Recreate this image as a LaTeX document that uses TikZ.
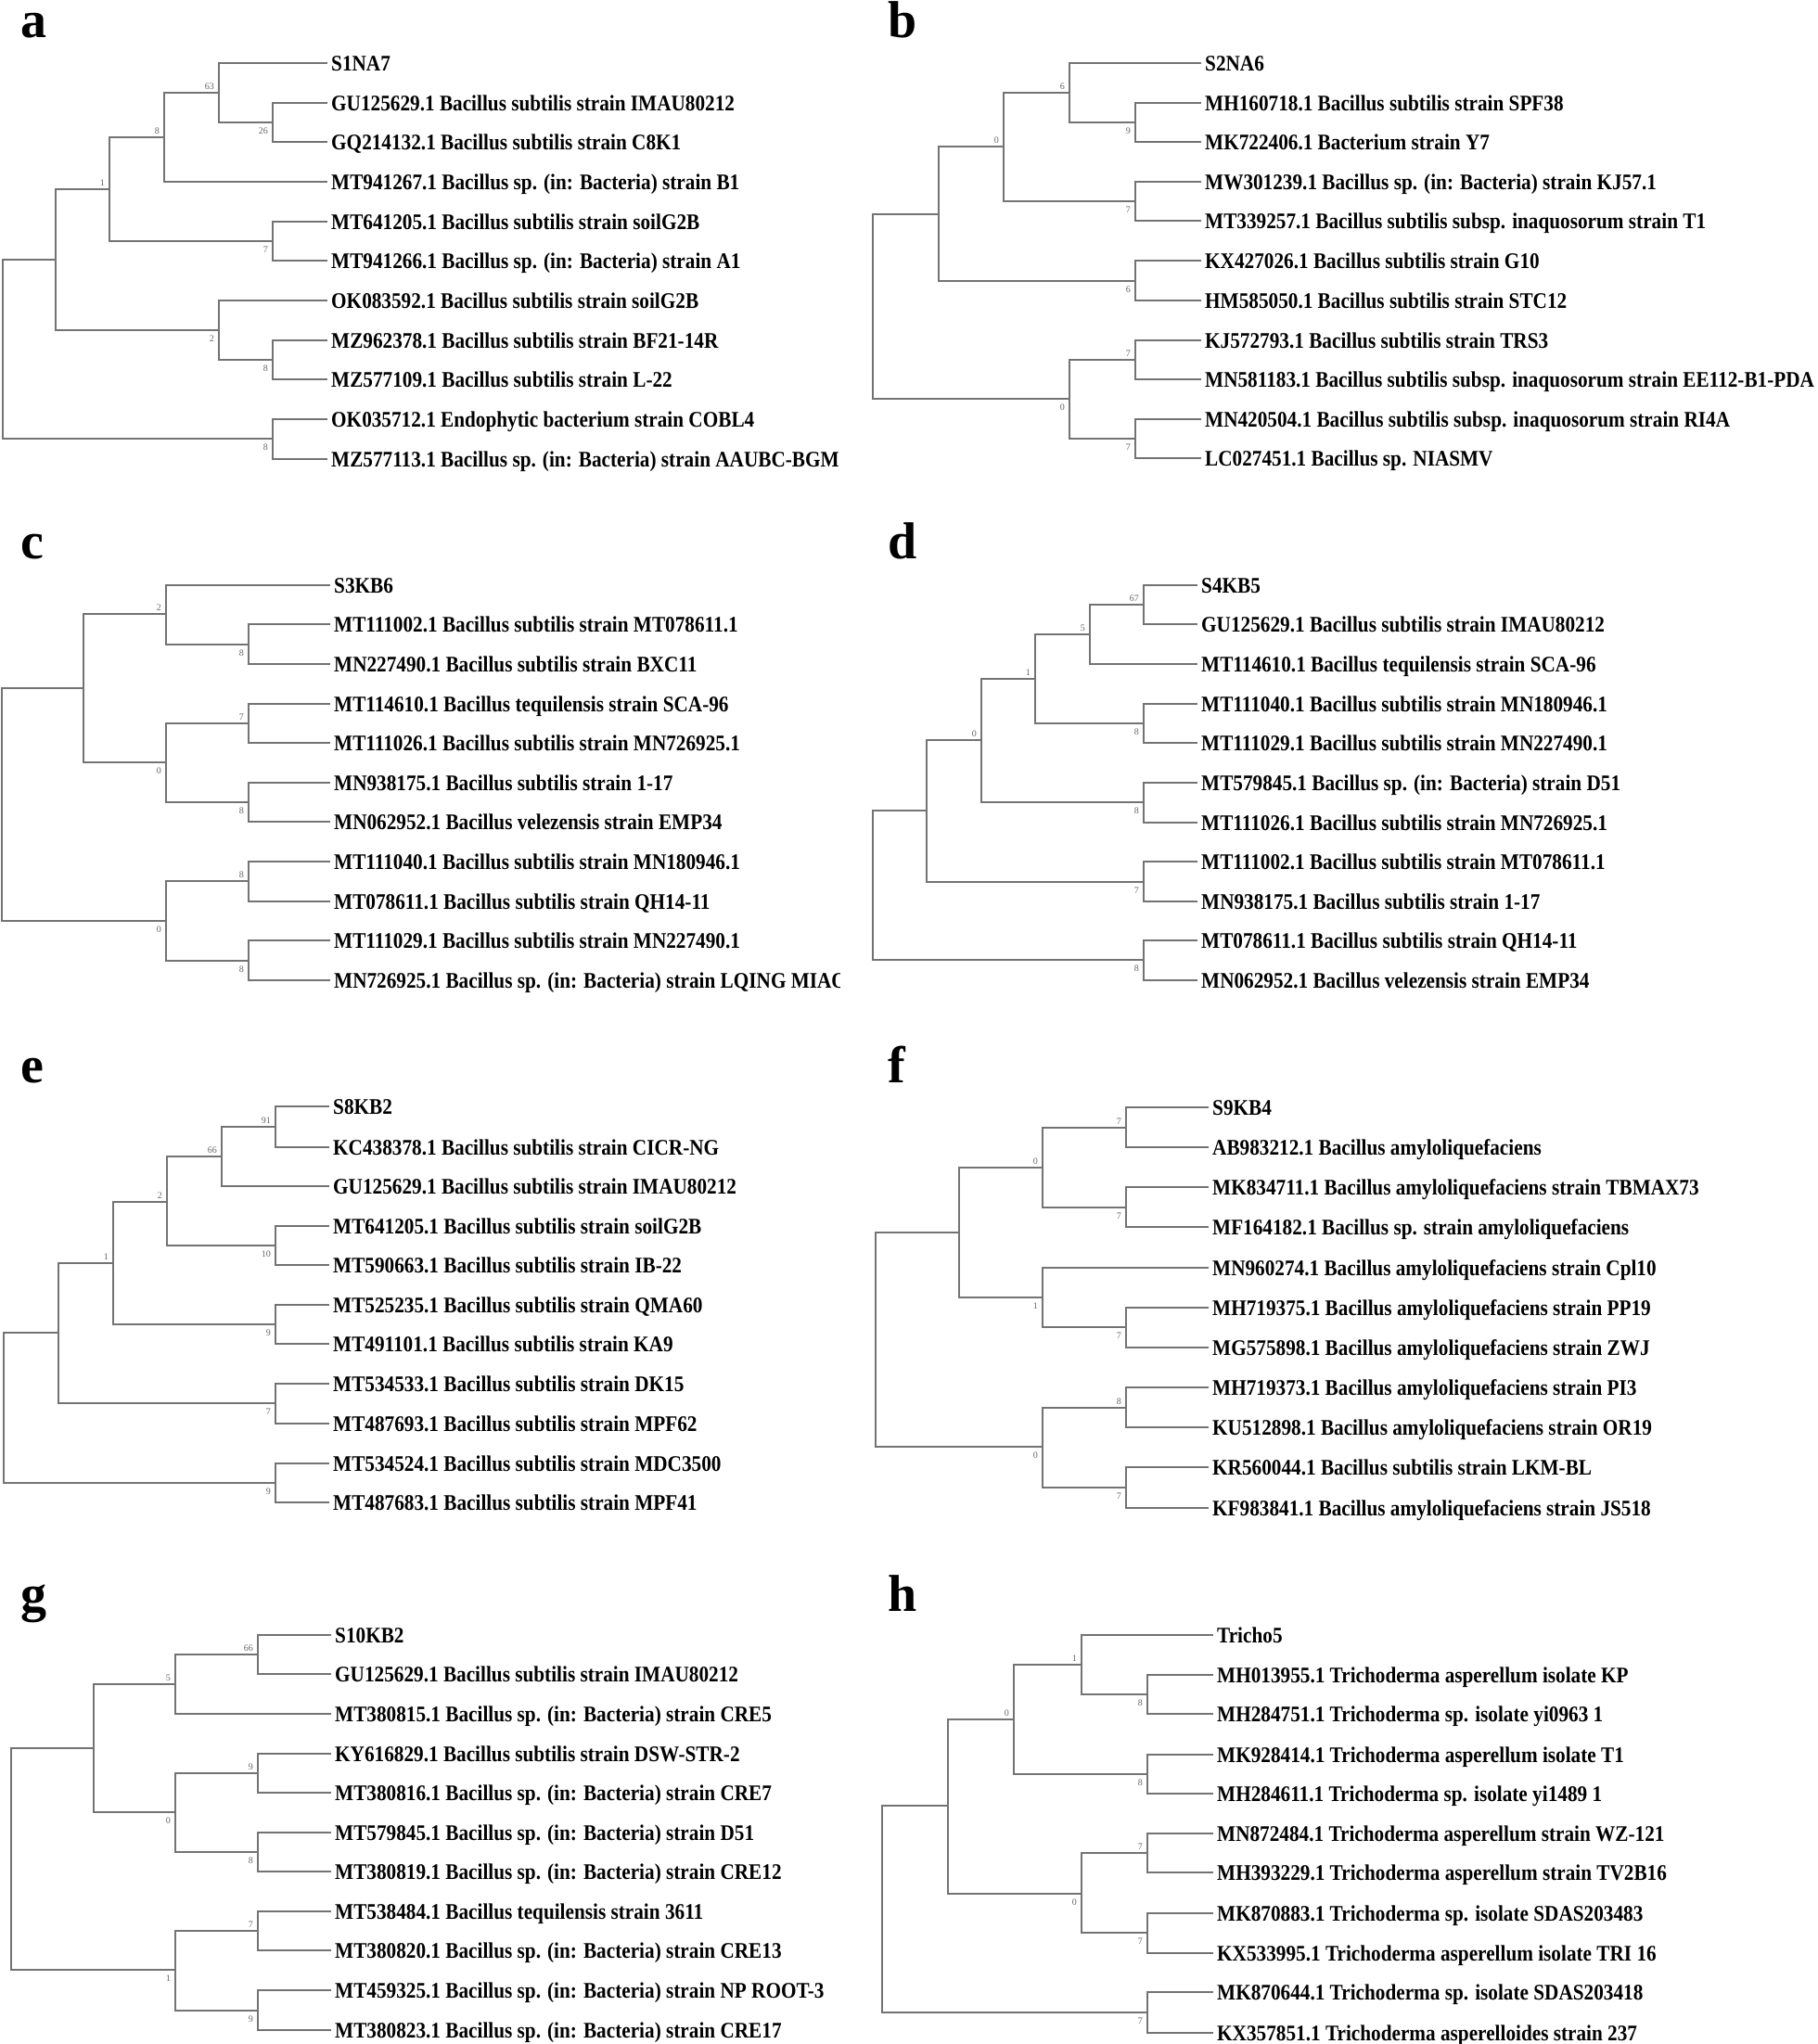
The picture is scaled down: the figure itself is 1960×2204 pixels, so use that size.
\documentclass[tikz,border=0pt]{standalone}
\usepackage{fontspec}
\setmainfont{Liberation Serif}
\newfontfamily\leaffont{Liberation Serif}[FakeStretch=0.885]
\begin{document}
\begin{tikzpicture}[x=1pt,y=-1pt,
 br/.style={draw=black!55, line width=1.5pt},
 leaf/.style={anchor=west, inner xsep=4pt, inner ysep=0pt, text height=16pt, text depth=0pt, font=\leaffont\bfseries\fontsize{24}{28}\selectfont},
 bsu/.style={anchor=south east, inner sep=0pt, xshift=-5pt, yshift=3pt, font=\fontsize{10}{12}\selectfont, text=black!60},
 bsd/.style={anchor=north east, inner sep=0pt, xshift=-5pt, yshift=-6pt, font=\fontsize{10}{12}\selectfont, text=black!60},
 plabel/.style={anchor=base west, inner sep=0pt, font=\bfseries\fontsize{56}{60}\selectfont}]
\path[use as bounding box, fill=white] (0,0) rectangle (1960,2204);

% ---------------- panel letters
\node[plabel] (La) at (22,40) {a};
\node[plabel] (Lb) at (957,40) {b};
\node[plabel] (Lc) at (22,602) {c};
\node[plabel] (Ld) at (957,602) {d};
\node[plabel] (Le) at (22,1167) {e};
\node[plabel] (Lf) at (957,1167) {f};
\node[plabel] (Lg) at (22,1737) {g};
\node[plabel] (Lh) at (957,1737) {h};

% ---------------- left column leaves (clipped at panel edge)
\begin{scope}
\clip (0,0) rectangle (905,2204);
% a
\node[leaf] (a1) at (353,68) {S1NA7};
\node[leaf] (a2) at (353,111) {GU125629.1 Bacillus subtilis strain IMAU80212};
\node[leaf] (a3) at (353,153) {GQ214132.1 Bacillus subtilis strain C8K1};
\node[leaf] (a4) at (353,196) {MT941267.1 Bacillus sp. (in: Bacteria) strain B1};
\node[leaf] (a5) at (353,239) {MT641205.1 Bacillus subtilis strain soilG2B};
\node[leaf] (a6) at (353,281) {MT941266.1 Bacillus sp. (in: Bacteria) strain A1};
\node[leaf] (a7) at (353,324) {OK083592.1 Bacillus subtilis strain soilG2B};
\node[leaf] (a8) at (353,367) {MZ962378.1 Bacillus subtilis strain BF21-14R};
\node[leaf] (a9) at (353,409) {MZ577109.1 Bacillus subtilis strain L-22};
\node[leaf] (a10) at (353,452) {OK035712.1 Endophytic bacterium strain COBL4};
\node[leaf] (a11) at (353,495) {MZ577113.1 Bacillus sp. (in: Bacteria) strain AAUBC-BGM};
% c
\node[leaf] (c1) at (356,631) {S3KB6};
\node[leaf] (c2) at (356,673) {MT111002.1 Bacillus subtilis strain MT078611.1};
\node[leaf] (c3) at (356,716) {MN227490.1 Bacillus subtilis strain BXC11};
\node[leaf] (c4) at (356,759) {MT114610.1 Bacillus tequilensis strain SCA-96};
\node[leaf] (c5) at (356,801) {MT111026.1 Bacillus subtilis strain MN726925.1};
\node[leaf] (c6) at (356,844) {MN938175.1 Bacillus subtilis strain 1-17};
\node[leaf] (c7) at (356,886) {MN062952.1 Bacillus velezensis strain EMP34};
\node[leaf] (c8) at (356,929) {MT111040.1 Bacillus subtilis strain MN180946.1};
\node[leaf] (c9) at (356,972) {MT078611.1 Bacillus subtilis strain QH14-11};
\node[leaf] (c10) at (356,1014) {MT111029.1 Bacillus subtilis strain MN227490.1};
\node[leaf] (c11) at (356,1057) {MN726925.1 Bacillus sp. (in: Bacteria) strain LQING MIAO};
% e
\node[leaf] (e1) at (355,1193) {S8KB2};
\node[leaf] (e2) at (355,1237) {KC438378.1 Bacillus subtilis strain CICR-NG};
\node[leaf] (e3) at (355,1279) {GU125629.1 Bacillus subtilis strain IMAU80212};
\node[leaf] (e4) at (355,1322) {MT641205.1 Bacillus subtilis strain soilG2B};
\node[leaf] (e5) at (355,1364) {MT590663.1 Bacillus subtilis strain IB-22};
\node[leaf] (e6) at (355,1407) {MT525235.1 Bacillus subtilis strain QMA60};
\node[leaf] (e7) at (355,1449) {MT491101.1 Bacillus subtilis strain KA9};
\node[leaf] (e8) at (355,1492) {MT534533.1 Bacillus subtilis strain DK15};
\node[leaf] (e9) at (355,1535) {MT487693.1 Bacillus subtilis strain MPF62};
\node[leaf] (e10) at (355,1578) {MT534524.1 Bacillus subtilis strain MDC3500};
\node[leaf] (e11) at (355,1620) {MT487683.1 Bacillus subtilis strain MPF41};
% g
\node[leaf] (g1) at (357,1763) {S10KB2};
\node[leaf] (g2) at (357,1805) {GU125629.1 Bacillus subtilis strain IMAU80212};
\node[leaf] (g3) at (357,1848) {MT380815.1 Bacillus sp. (in: Bacteria) strain CRE5};
\node[leaf] (g4) at (357,1891) {KY616829.1 Bacillus subtilis strain DSW-STR-2};
\node[leaf] (g5) at (357,1933) {MT380816.1 Bacillus sp. (in: Bacteria) strain CRE7};
\node[leaf] (g6) at (357,1976) {MT579845.1 Bacillus sp. (in: Bacteria) strain D51};
\node[leaf] (g7) at (357,2018) {MT380819.1 Bacillus sp. (in: Bacteria) strain CRE12};
\node[leaf] (g8) at (357,2061) {MT538484.1 Bacillus tequilensis strain 3611};
\node[leaf] (g9) at (357,2103) {MT380820.1 Bacillus sp. (in: Bacteria) strain CRE13};
\node[leaf] (g10) at (357,2146) {MT459325.1 Bacillus sp. (in: Bacteria) strain NP ROOT-3};
\node[leaf] (g11) at (357,2189) {MT380823.1 Bacillus sp. (in: Bacteria) strain CRE17};
\end{scope}

% ---------------- right column leaves
% b
\node[leaf] (b1) at (1295,68) {S2NA6};
\node[leaf] (b2) at (1295,111) {MH160718.1 Bacillus subtilis strain SPF38};
\node[leaf] (b3) at (1295,153) {MK722406.1 Bacterium strain Y7};
\node[leaf] (b4) at (1295,196) {MW301239.1 Bacillus sp. (in: Bacteria) strain KJ57.1};
\node[leaf] (b5) at (1295,238) {MT339257.1 Bacillus subtilis subsp. inaquosorum strain T1};
\node[leaf] (b6) at (1295,281) {KX427026.1 Bacillus subtilis strain G10};
\node[leaf] (b7) at (1295,324) {HM585050.1 Bacillus subtilis strain STC12};
\node[leaf] (b8) at (1295,367) {KJ572793.1 Bacillus subtilis strain TRS3};
\node[leaf] (b9) at (1295,409) {MN581183.1 Bacillus subtilis subsp. inaquosorum strain EE112-B1-PDA};
\node[leaf] (b10) at (1295,452) {MN420504.1 Bacillus subtilis subsp. inaquosorum strain RI4A};
\node[leaf] (b11) at (1295,494) {LC027451.1 Bacillus sp. NIASMV};
% d
\node[leaf] (d1) at (1291,631) {S4KB5};
\node[leaf] (d2) at (1291,673) {GU125629.1 Bacillus subtilis strain IMAU80212};
\node[leaf] (d3) at (1291,716) {MT114610.1 Bacillus tequilensis strain SCA-96};
\node[leaf] (d4) at (1291,759) {MT111040.1 Bacillus subtilis strain MN180946.1};
\node[leaf] (d5) at (1291,801) {MT111029.1 Bacillus subtilis strain MN227490.1};
\node[leaf] (d6) at (1291,844) {MT579845.1 Bacillus sp. (in: Bacteria) strain D51};
\node[leaf] (d7) at (1291,887) {MT111026.1 Bacillus subtilis strain MN726925.1};
\node[leaf] (d8) at (1291,929) {MT111002.1 Bacillus subtilis strain MT078611.1};
\node[leaf] (d9) at (1291,972) {MN938175.1 Bacillus subtilis strain 1-17};
\node[leaf] (d10) at (1291,1014) {MT078611.1 Bacillus subtilis strain QH14-11};
\node[leaf] (d11) at (1291,1057) {MN062952.1 Bacillus velezensis strain EMP34};
% f
\node[leaf] (f1) at (1303,1194) {S9KB4};
\node[leaf] (f2) at (1303,1237) {AB983212.1 Bacillus amyloliquefaciens};
\node[leaf] (f3) at (1303,1280) {MK834711.1 Bacillus amyloliquefaciens strain TBMAX73};
\node[leaf] (f4) at (1303,1323) {MF164182.1 Bacillus sp. strain amyloliquefaciens};
\node[leaf] (f5) at (1303,1367) {MN960274.1 Bacillus amyloliquefaciens strain Cpl10};
\node[leaf] (f6) at (1303,1410) {MH719375.1 Bacillus amyloliquefaciens strain PP19};
\node[leaf] (f7) at (1303,1453) {MG575898.1 Bacillus amyloliquefaciens strain ZWJ};
\node[leaf] (f8) at (1303,1496) {MH719373.1 Bacillus amyloliquefaciens strain PI3};
\node[leaf] (f9) at (1303,1539) {KU512898.1 Bacillus amyloliquefaciens strain OR19};
\node[leaf] (f10) at (1303,1582) {KR560044.1 Bacillus subtilis strain LKM-BL};
\node[leaf] (f11) at (1303,1626) {KF983841.1 Bacillus amyloliquefaciens strain JS518};
% h
\node[leaf] (h1) at (1308,1763) {Tricho5};
\node[leaf] (h2) at (1308,1806) {MH013955.1 Trichoderma asperellum isolate KP};
\node[leaf] (h3) at (1308,1848) {MH284751.1 Trichoderma sp. isolate yi0963 1};
\node[leaf] (h4) at (1308,1892) {MK928414.1 Trichoderma asperellum isolate T1};
\node[leaf] (h5) at (1308,1934) {MH284611.1 Trichoderma sp. isolate yi1489 1};
\node[leaf] (h6) at (1308,1977) {MN872484.1 Trichoderma asperellum strain WZ-121};
\node[leaf] (h7) at (1308,2019) {MH393229.1 Trichoderma asperellum strain TV2B16};
\node[leaf] (h8) at (1308,2063) {MK870883.1 Trichoderma sp. isolate SDAS203483};
\node[leaf] (h9) at (1308,2106) {KX533995.1 Trichoderma asperellum isolate TRI 16};
\node[leaf] (h10) at (1308,2148) {MK870644.1 Trichoderma sp. isolate SDAS203418};
\node[leaf] (h11) at (1308,2192) {KX357851.1 Trichoderma asperelloides strain 237};

% ================= tree a
\coordinate (aG) at (294,132);
\coordinate (aF) at (236,100);
\coordinate (aD) at (177,148);
\coordinate (aE) at (294,260);
\coordinate (aB) at (118,204);
\coordinate (aH) at (294,388);
\coordinate (aC) at (236,356);
\coordinate (aA) at (60,280);
\coordinate (aI) at (294,473);
\coordinate (aR) at (3,376);
\draw[br] (aG) |- (a2.west) (aG) |- (a3.west);
\draw[br] (aF) |- (a1.west) (aF) |- (aG);
\draw[br] (aD) |- (aF) (aD) |- (a4.west);
\draw[br] (aE) |- (a5.west) (aE) |- (a6.west);
\draw[br] (aB) |- (aD) (aB) |- (aE);
\draw[br] (aH) |- (a8.west) (aH) |- (a9.west);
\draw[br] (aC) |- (a7.west) (aC) |- (aH);
\draw[br] (aA) |- (aB) (aA) |- (aC);
\draw[br] (aI) |- (a10.west) (aI) |- (a11.west);
\draw[br] (aR) |- (aA) (aR) |- (aI);
\node[bsu] (aFb) at (aF) {63};
\node[bsd] (aGb) at (aG) {26};
\node[bsu] (aDb) at (aD) {8};
\node[bsu] (aBb) at (aB) {1};
\node[bsd] (aEb) at (aE) {7};
\node[bsd] (aCb) at (aC) {2};
\node[bsd] (aHb) at (aH) {8};
\node[bsd] (aIb) at (aI) {8};

% ================= tree b
\coordinate (bD) at (1224,132);
\coordinate (bC) at (1153,100);
\coordinate (bE) at (1224,217);
\coordinate (bB) at (1082,158);
\coordinate (bF) at (1224,303);
\coordinate (bA) at (1012,231);
\coordinate (bH) at (1224,388);
\coordinate (bI) at (1224,473);
\coordinate (bG) at (1153,430);
\coordinate (bR) at (941,330);
\draw[br] (bD) |- (b2.west) (bD) |- (b3.west);
\draw[br] (bC) |- (b1.west) (bC) |- (bD);
\draw[br] (bE) |- (b4.west) (bE) |- (b5.west);
\draw[br] (bB) |- (bC) (bB) |- (bE);
\draw[br] (bF) |- (b6.west) (bF) |- (b7.west);
\draw[br] (bA) |- (bB) (bA) |- (bF);
\draw[br] (bH) |- (b8.west) (bH) |- (b9.west);
\draw[br] (bI) |- (b10.west) (bI) |- (b11.west);
\draw[br] (bG) |- (bH) (bG) |- (bI);
\draw[br] (bR) |- (bA) (bR) |- (bG);
\node[bsd] (bDb) at (bD) {9};
\node[bsu] (bCb) at (bC) {6};
\node[bsd] (bEb) at (bE) {7};
\node[bsu] (bBb) at (bB) {0};
\node[bsd] (bFb) at (bF) {6};
\node[bsu] (bHb) at (bH) {7};
\node[bsd] (bIb) at (bI) {7};
\node[bsd] (bGb) at (bG) {0};

% ================= tree c
\coordinate (cC) at (268,695);
\coordinate (cB) at (179,662);
\coordinate (cE) at (268,780);
\coordinate (cF) at (268,865);
\coordinate (cD) at (179,822);
\coordinate (cA) at (90,742);
\coordinate (cH) at (268,950);
\coordinate (cI) at (268,1036);
\coordinate (cG) at (179,993);
\coordinate (cR) at (2,868);
\draw[br] (cC) |- (c2.west) (cC) |- (c3.west);
\draw[br] (cB) |- (c1.west) (cB) |- (cC);
\draw[br] (cE) |- (c4.west) (cE) |- (c5.west);
\draw[br] (cF) |- (c6.west) (cF) |- (c7.west);
\draw[br] (cD) |- (cE) (cD) |- (cF);
\draw[br] (cA) |- (cB) (cA) |- (cD);
\draw[br] (cH) |- (c8.west) (cH) |- (c9.west);
\draw[br] (cI) |- (c10.west) (cI) |- (c11.west);
\draw[br] (cG) |- (cH) (cG) |- (cI);
\draw[br] (cR) |- (cA) (cR) |- (cG);
\node[bsd] (cCb) at (cC) {8};
\node[bsu] (cBb) at (cB) {2};
\node[bsu] (cEb) at (cE) {7};
\node[bsd] (cFb) at (cF) {8};
\node[bsd] (cDb) at (cD) {0};
\node[bsu] (cHb) at (cH) {8};
\node[bsd] (cIb) at (cI) {8};
\node[bsd] (cGb) at (cG) {0};

% ================= tree d
\coordinate (dE) at (1233,652);
\coordinate (dD) at (1175,684);
\coordinate (dF) at (1233,780);
\coordinate (dC) at (1116,732);
\coordinate (dG) at (1233,865);
\coordinate (dB) at (1058,798);
\coordinate (dH) at (1233,951);
\coordinate (dA) at (999,874);
\coordinate (dI) at (1233,1035);
\coordinate (dR) at (941,955);
\draw[br] (dE) |- (d1.west) (dE) |- (d2.west);
\draw[br] (dD) |- (dE) (dD) |- (d3.west);
\draw[br] (dF) |- (d4.west) (dF) |- (d5.west);
\draw[br] (dC) |- (dD) (dC) |- (dF);
\draw[br] (dG) |- (d6.west) (dG) |- (d7.west);
\draw[br] (dB) |- (dC) (dB) |- (dG);
\draw[br] (dH) |- (d8.west) (dH) |- (d9.west);
\draw[br] (dA) |- (dB) (dA) |- (dH);
\draw[br] (dI) |- (d10.west) (dI) |- (d11.west);
\draw[br] (dR) |- (dA) (dR) |- (dI);
\node[bsu] (dEb) at (dE) {67};
\node[bsu] (dDb) at (dD) {5};
\node[bsd] (dFb) at (dF) {8};
\node[bsu] (dCb) at (dC) {1};
\node[bsd] (dGb) at (dG) {8};
\node[bsu] (dBb) at (dB) {0};
\node[bsd] (dHb) at (dH) {7};
\node[bsd] (dIb) at (dI) {8};

% ================= tree e
\coordinate (eE) at (297,1215);
\coordinate (eD) at (239,1247);
\coordinate (eF) at (297,1343);
\coordinate (eC) at (180,1296);
\coordinate (eG) at (297,1428);
\coordinate (eB) at (122,1362);
\coordinate (eH) at (297,1513);
\coordinate (eA) at (63,1437);
\coordinate (eI) at (297,1599);
\coordinate (eR) at (4,1518);
\draw[br] (eE) |- (e1.west) (eE) |- (e2.west);
\draw[br] (eD) |- (eE) (eD) |- (e3.west);
\draw[br] (eF) |- (e4.west) (eF) |- (e5.west);
\draw[br] (eC) |- (eD) (eC) |- (eF);
\draw[br] (eG) |- (e6.west) (eG) |- (e7.west);
\draw[br] (eB) |- (eC) (eB) |- (eG);
\draw[br] (eH) |- (e8.west) (eH) |- (e9.west);
\draw[br] (eA) |- (eB) (eA) |- (eH);
\draw[br] (eI) |- (e10.west) (eI) |- (e11.west);
\draw[br] (eR) |- (eA) (eR) |- (eI);
\node[bsu] (eEb) at (eE) {91};
\node[bsu] (eDb) at (eD) {66};
\node[bsd] (eFb) at (eF) {10};
\node[bsu] (eCb) at (eC) {2};
\node[bsd] (eGb) at (eG) {9};
\node[bsu] (eBb) at (eB) {1};
\node[bsd] (eHb) at (eH) {7};
\node[bsd] (eIb) at (eI) {9};

% ================= tree f
\coordinate (fC) at (1214,1216);
\coordinate (fD) at (1214,1302);
\coordinate (fB) at (1124,1259);
\coordinate (fF) at (1214,1431);
\coordinate (fE) at (1124,1399);
\coordinate (fA) at (1034,1329);
\coordinate (fH) at (1214,1518);
\coordinate (fI) at (1214,1604);
\coordinate (fG) at (1124,1560);
\coordinate (fR) at (944,1445);
\draw[br] (fC) |- (f1.west) (fC) |- (f2.west);
\draw[br] (fD) |- (f3.west) (fD) |- (f4.west);
\draw[br] (fB) |- (fC) (fB) |- (fD);
\draw[br] (fF) |- (f6.west) (fF) |- (f7.west);
\draw[br] (fE) |- (f5.west) (fE) |- (fF);
\draw[br] (fA) |- (fB) (fA) |- (fE);
\draw[br] (fH) |- (f8.west) (fH) |- (f9.west);
\draw[br] (fI) |- (f10.west) (fI) |- (f11.west);
\draw[br] (fG) |- (fH) (fG) |- (fI);
\draw[br] (fR) |- (fA) (fR) |- (fG);
\node[bsu] (fCb) at (fC) {7};
\node[bsd] (fDb) at (fD) {7};
\node[bsu] (fBb) at (fB) {0};
\node[bsd] (fFb) at (fF) {7};
\node[bsd] (fEb) at (fE) {1};
\node[bsu] (fHb) at (fH) {8};
\node[bsd] (fIb) at (fI) {7};
\node[bsd] (fGb) at (fG) {0};

% ================= tree g
\coordinate (gC) at (278,1784);
\coordinate (gB) at (189,1816);
\coordinate (gE) at (278,1912);
\coordinate (gF) at (278,1997);
\coordinate (gD) at (189,1954);
\coordinate (gA) at (101,1885);
\coordinate (gH) at (278,2082);
\coordinate (gI) at (278,2168);
\coordinate (gG) at (189,2124);
\coordinate (gR) at (12,2004);
\draw[br] (gC) |- (g1.west) (gC) |- (g2.west);
\draw[br] (gB) |- (gC) (gB) |- (g3.west);
\draw[br] (gE) |- (g4.west) (gE) |- (g5.west);
\draw[br] (gF) |- (g6.west) (gF) |- (g7.west);
\draw[br] (gD) |- (gE) (gD) |- (gF);
\draw[br] (gA) |- (gB) (gA) |- (gD);
\draw[br] (gH) |- (g8.west) (gH) |- (g9.west);
\draw[br] (gI) |- (g10.west) (gI) |- (g11.west);
\draw[br] (gG) |- (gH) (gG) |- (gI);
\draw[br] (gR) |- (gA) (gR) |- (gG);
\node[bsu] (gCb) at (gC) {66};
\node[bsu] (gBb) at (gB) {5};
\node[bsu] (gEb) at (gE) {9};
\node[bsd] (gFb) at (gF) {8};
\node[bsd] (gDb) at (gD) {0};
\node[bsu] (gHb) at (gH) {7};
\node[bsd] (gIb) at (gI) {9};
\node[bsd] (gGb) at (gG) {1};

% ================= tree h
\coordinate (hD) at (1237,1827);
\coordinate (hC) at (1166,1795);
\coordinate (hE) at (1237,1913);
\coordinate (hB) at (1093,1854);
\coordinate (hG) at (1237,1998);
\coordinate (hH) at (1237,2084);
\coordinate (hF) at (1166,2042);
\coordinate (hA) at (1022,1947);
\coordinate (hI) at (1237,2170);
\coordinate (hR) at (951,2058);
\draw[br] (hD) |- (h2.west) (hD) |- (h3.west);
\draw[br] (hC) |- (h1.west) (hC) |- (hD);
\draw[br] (hE) |- (h4.west) (hE) |- (h5.west);
\draw[br] (hB) |- (hC) (hB) |- (hE);
\draw[br] (hG) |- (h6.west) (hG) |- (h7.west);
\draw[br] (hH) |- (h8.west) (hH) |- (h9.west);
\draw[br] (hF) |- (hG) (hF) |- (hH);
\draw[br] (hA) |- (hB) (hA) |- (hF);
\draw[br] (hI) |- (h10.west) (hI) |- (h11.west);
\draw[br] (hR) |- (hA) (hR) |- (hI);
\node[bsd] (hDb) at (hD) {8};
\node[bsu] (hCb) at (hC) {1};
\node[bsd] (hEb) at (hE) {8};
\node[bsu] (hBb) at (hB) {0};
\node[bsu] (hGb) at (hG) {7};
\node[bsd] (hHb) at (hH) {7};
\node[bsd] (hFb) at (hF) {0};
\node[bsd] (hIb) at (hI) {7};
\end{tikzpicture}
\end{document}
